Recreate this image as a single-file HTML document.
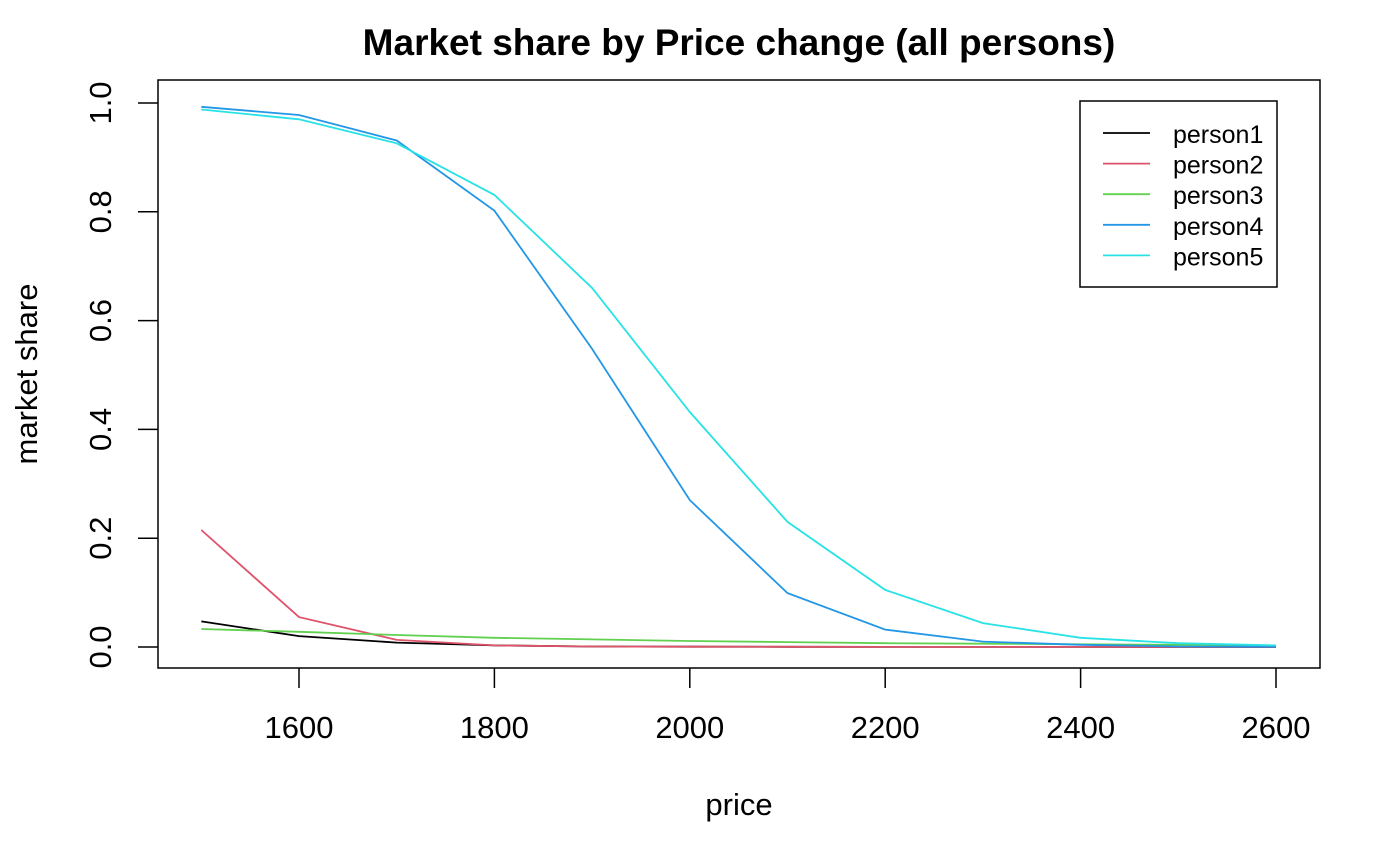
<!DOCTYPE html>
<html><head><meta charset="utf-8"><style>
html,body{margin:0;padding:0;background:#fff;}
svg{display:block;font-family:"Liberation Sans",Arial,sans-serif;}
</style></head><body>
<svg id="chart" width="1400" height="865" viewBox="0 0 1400 865">
<text x="739" y="55" text-anchor="middle" font-size="37" font-weight="bold">Market share by Price change (all persons)</text>
<rect x="158" y="80" width="1162" height="588" fill="none" stroke="#000" stroke-width="1.5"/>
<g id="xaxis"></g>
<g id="yaxis"></g>
<text x="739" y="815" text-anchor="middle" font-size="31">price</text>
<text transform="translate(37,374) rotate(-90)" text-anchor="middle" font-size="31">market share</text>
<g id="series"></g>
<g id="legend"></g>
</svg>
<script>
const prices = [1500,1600,1700,1800,1900,2000,2100,2200,2300,2400,2500,2600];
const person1 = [0.047,0.020,0.008,0.003,0.001,0.0005,0.0003,0.0002,0.0001,0.0001,0.0,0.0];
const person2 = [0.215,0.055,0.013,0.003,0.001,0.0005,0.0003,0.0002,0.0001,0.0001,0.0,0.0];
const person3 = [0.033,0.028,0.022,0.017,0.014,0.011,0.009,0.007,0.006,0.005,0.004,0.003];
const person4 = [0.993,0.978,0.931,0.802,0.548,0.270,0.099,0.032,0.010,0.004,0.001,0.0005];
const person5 = [0.988,0.970,0.926,0.831,0.660,0.432,0.230,0.105,0.044,0.017,0.007,0.003];
const seriesNames = ["person1","person2","person3","person4","person5"];
const xTicks = [1600,1800,2000,2200,2400,2600];
const yTicks = [0.0,0.2,0.4,0.6,0.8,1.0];
const yTickLabels = ["0.0","0.2","0.4","0.6","0.8","1.0"];

const allSeries = [person1,person2,person3,person4,person5];
const colors = ["#000000","#DF536B","#61D04F","#2297E6","#28E2E5"];
const NS = "http://www.w3.org/2000/svg";
function xs(v){ return 201.3 + (v-1500)*(1276-201.3)/1100; }
function ys(v){ return 647 - v*544; }
function mk(tag, attrs, parent){ const e=document.createElementNS(NS,tag); for(const k in attrs) e.setAttribute(k,attrs[k]); parent.appendChild(e); return e; }

const xa = document.getElementById('xaxis');
xTicks.forEach(t=>{
  const l = mk('line',{x1:xs(t),x2:xs(t),y1:668,y2:688,stroke:'#000','stroke-width':1.5},xa);
  
  
  const tx = mk('text',{x:xs(t),y:738,'text-anchor':'middle','font-size':31},xa);
  tx.textContent = t;
  
  
});
const ya = document.getElementById('yaxis');
yTicks.forEach((t,i)=>{
  const l = mk('line',{x1:138,x2:158,y1:ys(t),y2:ys(t),stroke:'#000','stroke-width':1.5},ya);
  
  
  const tx = mk('text',{transform:`translate(111,${ys(t)}) rotate(-90)`,'text-anchor':'middle','font-size':31},ya);
  tx.textContent = yTickLabels[i];
  
  
});

const sg = document.getElementById('series');
allSeries.forEach((s,i)=>{
  const pts = s.map((v,j)=>xs(prices[j]).toFixed(1)+','+ys(v).toFixed(1)).join(' ');
  const pl = mk('polyline',{points:pts,fill:'none',stroke:colors[i],'stroke-width':1.8},sg);
  
  
});

const lg = document.getElementById('legend');
const box = mk('rect',{x:1080,y:101,width:197,height:186,fill:'#fff',stroke:'#000','stroke-width':1.5},lg);


seriesNames.forEach((n,i)=>{
  const y = 133 + i*30.6;
  const g = mk('g',{},lg);
  
  
  mk('line',{x1:1103,x2:1150,y1:y,y2:y,stroke:colors[i],'stroke-width':1.8},g);
  const t = mk('text',{x:1173,y:y+10,'font-size':25},g);
  t.textContent = n;
});
</script>
</body></html>
